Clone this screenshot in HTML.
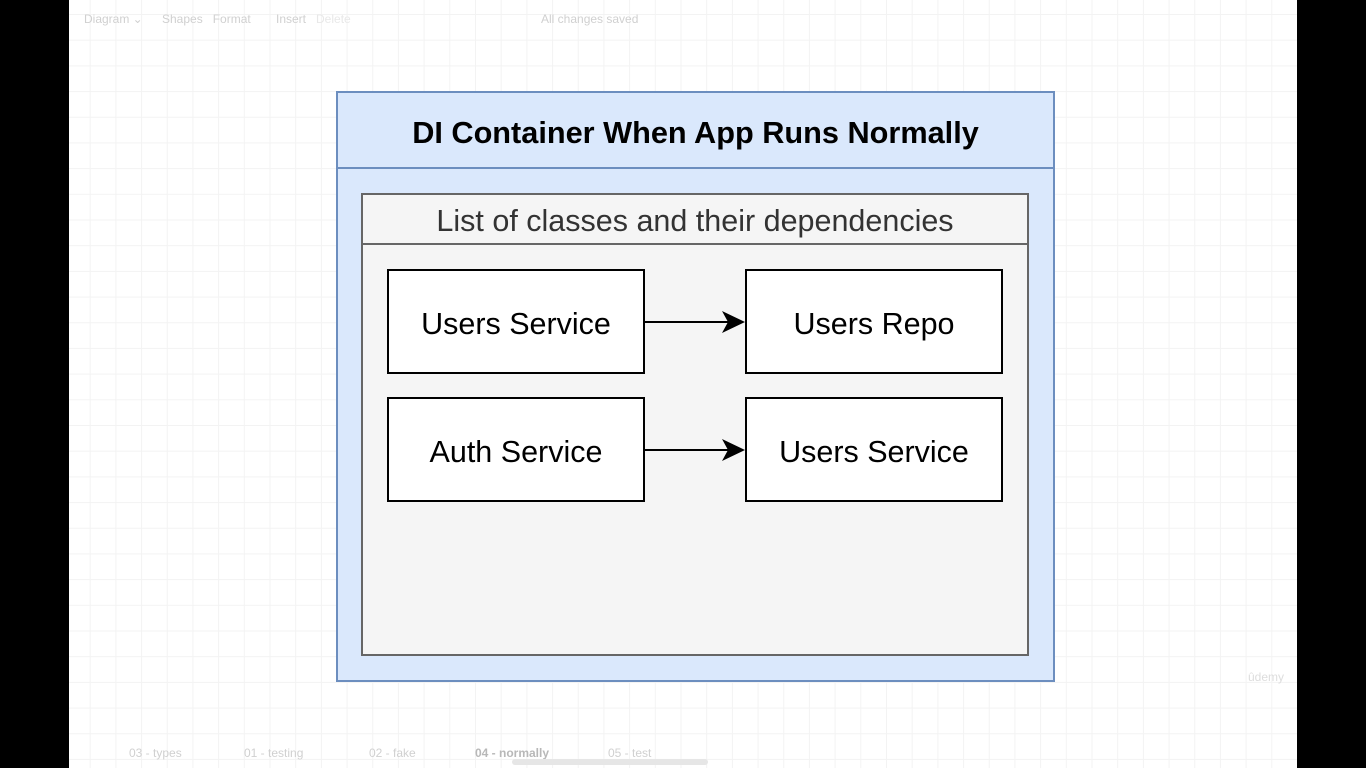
<!DOCTYPE html>
<html><head><style>
body{margin:0;width:1366px;height:768px;overflow:hidden;background:#000;font-family:"Liberation Sans",sans-serif;position:relative}
#c{position:absolute;left:69px;top:0;width:1228px;height:768px;background-color:#fff;
background-image:linear-gradient(#f3f3f3 1px,transparent 1px),linear-gradient(90deg,#f3f3f3 1px,transparent 1px);
background-size:25.7px 25.7px;background-position:-5px 14px}
.t{position:absolute;color:#d0d0d0;font-size:12px}
.box{position:absolute;background:#fff;border:2px solid #000;display:flex;align-items:center;justify-content:center;font-size:30.5px;color:#000;box-sizing:border-box;padding-top:5px}
</style></head><body>
<div id="c"></div>
<div class="t" style="left:84px;top:12px">Diagram ⌄</div>
<div class="t" style="left:162px;top:12px">Shapes&nbsp;&nbsp; Format</div>
<div class="t" style="left:276px;top:12px">Insert &nbsp;&nbsp;<span style="color:#e8e8e8">Delete</span></div>
<div class="t" style="left:541px;top:12px">All changes saved</div>
<div class="t" style="left:129px;top:746px">03 - types</div>
<div class="t" style="left:244px;top:746px">01 - testing</div>
<div class="t" style="left:369px;top:746px">02 - fake</div>
<div class="t" style="left:475px;top:746px;color:#b8b8b8;font-weight:bold">04 - normally</div>
<div class="t" style="left:608px;top:746px">05 - test</div>
<div style="position:absolute;left:512px;top:759px;width:196px;height:6px;border-radius:3px;background:#e6e6e6"></div>
<div style="position:absolute;left:336px;top:91px;width:719px;height:591px;box-sizing:border-box;background:#dae8fc;border:2px solid #6c8ebf"></div>
<div style="position:absolute;left:336px;top:167px;width:719px;height:2px;background:#6c8ebf"></div>
<div style="position:absolute;left:338px;top:98px;width:715px;height:69px;display:flex;align-items:center;justify-content:center;font-size:30.7px;font-weight:bold">DI Container When App Runs Normally</div>
<div style="position:absolute;left:361px;top:193px;width:668px;height:463px;box-sizing:border-box;background:#f5f5f5;border:2px solid #666"></div>
<div style="position:absolute;left:361px;top:243px;width:668px;height:2px;background:#666"></div>
<div style="position:absolute;left:363px;top:199px;width:664px;height:44px;display:flex;align-items:center;justify-content:center;font-size:30.5px;color:#333">List of classes and their dependencies</div>
<div class="box" style="left:387px;top:269px;width:258px;height:105px">Users Service</div>
<div class="box" style="left:745px;top:269px;width:258px;height:105px">Users Repo</div>
<div class="box" style="left:387px;top:397px;width:258px;height:105px">Auth Service</div>
<div class="box" style="left:745px;top:397px;width:258px;height:105px">Users Service</div>
<svg style="position:absolute;left:0;top:0" width="1366" height="768">
<line x1="645" y1="322" x2="730" y2="322" stroke="#000" stroke-width="2"/>
<polygon points="745,322 722,311 728,322 722,333" fill="#000"/>
<line x1="645" y1="450" x2="730" y2="450" stroke="#000" stroke-width="2"/>
<polygon points="745,450 722,439 728,450 722,461" fill="#000"/>
</svg>
<div class="t" style="left:1248px;top:670px;color:#ddd">ûdemy</div>
</body></html>
